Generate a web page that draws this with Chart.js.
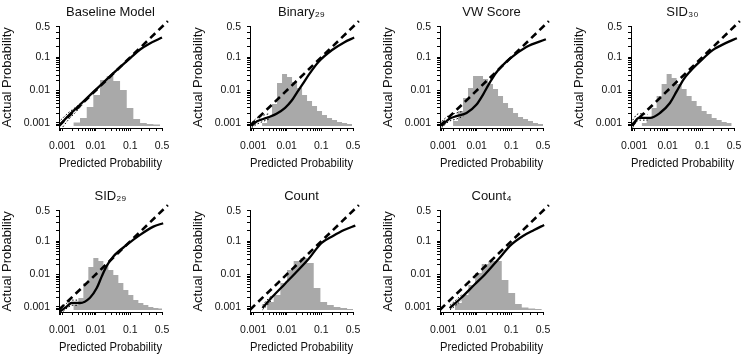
<!DOCTYPE html>
<html>
<head>
<meta charset="utf-8">
<script src="https://cdn.jsdelivr.net/npm/chart.js@4.4.1/dist/chart.umd.min.js"></script>
<style>
  html, body { margin: 0; padding: 0; background: #fff; }
  body { width: 750px; height: 357px; overflow: hidden; position: relative; }
  canvas { position: absolute; }
</style>
</head>
<body>
<script>
// one panel per model, left to right, top to bottom
const titles = ['Baseline Model', 'Binary₂₉', 'VW Score', 'SID₃₀', 'SID₂₉', 'Count', 'Count₄'];

// tick marks on both probability axes (logit spaced), and the ones that get a label
const tickValues = [0.0008, 0.0009,
  0.001, 0.002, 0.003, 0.004, 0.005, 0.006, 0.007, 0.008, 0.009,
  0.01, 0.02, 0.03, 0.04, 0.05, 0.06, 0.07, 0.08, 0.09,
  0.1, 0.2, 0.3, 0.4, 0.5];
const tickLabels = [0.001, 0.01, 0.1, 0.5];

// histogram of predicted probabilities: bin edges and relative frequency per bin
const histEdges = [
  [0.00216, 0.00342, 0.00543, 0.00854, 0.0135, 0.0213, 0.0333, 0.052, 0.0802, 0.121, 0.18, 0.258, 0.355, 0.467],
  [0.00184, 0.0026, 0.00366, 0.00517, 0.0073, 0.0103, 0.0145, 0.0204, 0.0286, 0.0399, 0.0555, 0.0766, 0.105, 0.142, 0.19, 0.249, 0.319, 0.399, 0.484],
  [0.00197, 0.00278, 0.00393, 0.00554, 0.00782, 0.011, 0.0155, 0.0218, 0.0305, 0.0426, 0.0592, 0.0817, 0.112, 0.151, 0.201, 0.262, 0.334, 0.415, 0.501],
  [0.00167, 0.00236, 0.00333, 0.0047, 0.00662, 0.00934, 0.0132, 0.0185, 0.026, 0.0363, 0.0506, 0.0701, 0.0962, 0.131, 0.176, 0.231, 0.299, 0.376, 0.46],
  [0.00216, 0.00305, 0.0043, 0.00606, 0.00854, 0.0121, 0.017, 0.0238, 0.0333, 0.0465, 0.0645, 0.0888, 0.121, 0.163, 0.216, 0.28, 0.355, 0.438, 0.5],
  [0.0026, 0.00411, 0.00651, 0.0103, 0.0162, 0.0256, 0.0399, 0.0619, 0.0948, 0.143, 0.209, 0.295, 0.399, 0.5],
  [0.00226, 0.00358, 0.00568, 0.009, 0.0142, 0.0223, 0.035, 0.0544, 0.0836, 0.127, 0.187, 0.267, 0.367, 0.479]
];
const histFreq = [
  [3.5, 8, 19, 31, 46, 50, 45, 36, 18, 7, 3, 2, 1.5],
  [3, 10, 22, 43, 52, 49, 44, 38, 31, 25, 20, 15, 11, 8, 6, 4, 3, 2],
  [5, 15, 28, 38, 50, 50, 47, 42, 37, 30, 23, 18, 13, 9, 7, 5, 3, 2],
  [3, 8, 18, 30, 42, 52, 48, 42, 37, 30, 25, 20, 15, 12, 8, 6, 4, 3],
  [5, 12, 27, 43, 52, 49, 45, 40, 35, 27, 20, 15, 10, 7, 5, 3, 2, 1.5],
  [8, 15, 27, 40, 49, 52, 47, 22, 8, 5, 3, 2, 1],
  [7, 15, 25, 37, 46, 49, 49, 30, 17, 6, 2.5, 1.5, 1]
];

// smoothed calibration curve (predicted -> actual)
const curveX = [
  [0.0008, 0.0015, 0.003, 0.006, 0.012, 0.025, 0.05, 0.1, 0.18, 0.3, 0.5],
  [0.0009, 0.0013, 0.002, 0.003, 0.005, 0.009, 0.014, 0.02, 0.03, 0.045, 0.085, 0.19, 0.35, 0.52],
  [0.0009, 0.0015, 0.0025, 0.005, 0.0098, 0.0154, 0.024, 0.038, 0.09, 0.24, 0.55],
  [0.0009, 0.0012, 0.0015, 0.003, 0.0059, 0.0117, 0.0185, 0.029, 0.045, 0.0865, 0.19, 0.375, 0.55],
  [0.00086, 0.00136, 0.0019, 0.0034, 0.0068, 0.0108, 0.0152, 0.0213, 0.0333, 0.08, 0.18, 0.355, 0.52],
  [0.0019, 0.0037, 0.009, 0.018, 0.044, 0.1, 0.2, 0.35, 0.54],
  [0.00156, 0.0035, 0.0087, 0.0173, 0.0423, 0.1, 0.2, 0.35, 0.52]
];
const curveY = [
  [0.0008, 0.0016, 0.0032, 0.0064, 0.0126, 0.026, 0.05, 0.095, 0.163, 0.232, 0.315],
  [0.0008, 0.0011, 0.0013, 0.0015, 0.0019, 0.0029, 0.0048, 0.0085, 0.016, 0.031, 0.075, 0.158, 0.245, 0.315],
  [0.0008, 0.0013, 0.0016, 0.002, 0.0036, 0.0074, 0.017, 0.036, 0.09, 0.19, 0.29],
  [0.0008, 0.0013, 0.0014, 0.0014, 0.002, 0.0041, 0.0094, 0.0215, 0.038, 0.0756, 0.159, 0.242, 0.305],
  [0.0007, 0.001, 0.0013, 0.0013, 0.0019, 0.0038, 0.0088, 0.0185, 0.036, 0.079, 0.15, 0.242, 0.29],
  [0.0009, 0.002, 0.0052, 0.011, 0.03, 0.088, 0.14, 0.2, 0.256],
  [0.0009, 0.0019, 0.0049, 0.0099, 0.0285, 0.08, 0.14, 0.2, 0.265]
];

// pointwise band around the curve, only visible at the low end
const bandX = [
  [0.0009, 0.0015, 0.0025, 0.004],
  [0.0009, 0.0013, 0.002, 0.003],
  [0.0009, 0.0015, 0.0025, 0.004],
  [0.0009, 0.0012, 0.0015, 0.0025],
  [0.0009, 0.0014, 0.002, 0.003],
  [0.0019, 0.0026, 0.0037],
  [0.0016, 0.0024, 0.0035]
];
const bandHigh = [
  [0.0012, 0.002, 0.003, 0.0045],
  [0.001, 0.0014, 0.0017, 0.0019],
  [0.0011, 0.0017, 0.002, 0.0023],
  [0.0012, 0.0018, 0.0019, 0.0018],
  [0.0009, 0.0013, 0.0016, 0.0016],
  [0.0011, 0.0016, 0.0023],
  [0.0011, 0.0016, 0.0023]
];
const bandLow = [
  [0.0006, 0.0012, 0.0021, 0.0036],
  [0.0007, 0.0009, 0.0011, 0.0013],
  [0.0007, 0.0011, 0.0013, 0.0016],
  [0.0007, 0.0011, 0.0012, 0.0012],
  [0.0006, 0.0009, 0.0011, 0.0011],
  [0.0008, 0.0011, 0.0017],
  [0.0008, 0.0011, 0.0016]
];

// perfect calibration line end points
const diagonal = [0.0008, 0.6];

const logit = p => Math.log(p / (1 - p));

// probability axis drawn on a logit scale
class LogitScale extends Chart.Scale {
  static id = 'logit';
  static defaults = {};
  determineDataLimits() {
    this.min = this.options.min;
    this.max = this.options.max;
  }
  buildTicks() {
    return tickValues.filter(v => v >= this.min && v <= this.max).map(v => ({ value: v }));
  }
  configure() {
    super.configure();
    this._lgStart = logit(this.min);
    this._lgSpan = logit(this.max) - this._lgStart;
  }
  getLabelForValue(v) { return String(v); }
  getPixelForValue(v) {
    return this.getPixelForDecimal((logit(v) - this._lgStart) / this._lgSpan);
  }
  getValueForPixel(px) {
    const z = this._lgStart + this.getDecimalForPixel(px) * this._lgSpan;
    return 1 / (1 + Math.exp(-z));
  }
}
Chart.register(LogitScale);

Chart.defaults.font.family = "'Liberation Sans', Arial, sans-serif";
Chart.defaults.color = '#111';

const colLeft = [0, 191, 381, 572];
const rowTop = [0, 184];

const pts = (xs, ys) => xs.map((x, k) => ({ x: x, y: ys[k] }));

// axis line runs only over the tick range, like base R axes
function axis(min, max, pos) {
  return {
    type: 'logit',
    min: min,
    max: max,
    position: pos,
    border: { display: true, color: '#000', width: 1 },
    grid: { display: true, drawOnChartArea: false, drawTicks: true, tickLength: 3, tickColor: '#000' },
    ticks: {
      autoSkip: false,
      maxRotation: 0,
      minRotation: 0,
      padding: pos === 'bottom' ? 9 : 6,
      font: { size: 10.5 },
      color: '#111',
      callback: v => tickLabels.includes(v) ? String(v) : ''
    }
  };
}

titles.forEach((title, i) => {
  const canvas = document.createElement('canvas');
  canvas.width = 190;
  canvas.height = 184;
  canvas.style.left = colLeft[i % 4] + 'px';
  canvas.style.top = rowTop[Math.floor(i / 4)] + 'px';
  document.body.appendChild(canvas);

  const hist = histEdges[i].map((e, k) => ({ x: e, y: k < histFreq[i].length ? histFreq[i][k] : 0 }));

  const xAxis = axis(0.0008, 0.5, 'bottom');
  xAxis.title = { display: true, text: 'Predicted Probability', font: { size: 13 }, padding: { top: 0, bottom: 13 } };
  xAxis.afterFit = s => { s.height = 56; };

  const yAxis = axis(0.00068, 0.5, 'left');
  yAxis.title = { display: true, text: 'Actual Probability', font: { size: 13 }, padding: { top: 0, bottom: 0 } };
  yAxis.afterFit = s => { s.width = 59; };

  new Chart(canvas, {
    type: 'line',
    data: {
      datasets: [
        {
          data: pts(diagonal, diagonal),
          borderColor: '#000',
          borderWidth: 2.6,
          borderDash: [7, 4.5],
          pointRadius: 0,
          clip: false,
          order: 1
        },
        {
          data: pts(curveX[i], curveY[i]),
          borderColor: '#000',
          borderWidth: 2.3,
          pointRadius: 0,
          cubicInterpolationMode: 'monotone',
          clip: false,
          order: 2
        },
        {
          data: pts(bandX[i], bandHigh[i]),
          borderColor: '#000',
          borderWidth: 1,
          borderDash: [1.5, 2],
          pointRadius: 0,
          cubicInterpolationMode: 'monotone',
          order: 3
        },
        {
          data: pts(bandX[i], bandLow[i]),
          borderColor: '#000',
          borderWidth: 1,
          borderDash: [1.5, 2],
          pointRadius: 0,
          cubicInterpolationMode: 'monotone',
          order: 3
        },
        {
          data: hist,
          yAxisID: 'y2',
          stepped: 'before',
          fill: 'origin',
          backgroundColor: '#a9a9a9',
          borderColor: 'rgba(0,0,0,0)',
          borderWidth: 0,
          pointRadius: 0,
          order: 4
        }
      ]
    },
    options: {
      responsive: false,
      animation: false,
      devicePixelRatio: 1,
      layout: { padding: { left: 0, right: 28, top: 0, bottom: 0 } },
      plugins: {
        legend: { display: false },
        tooltip: { enabled: false },
        title: {
          display: true,
          text: title,
          fullSize: false,
          color: '#111',
          font: { size: 13, weight: 'normal', lineHeight: '16px' },
          padding: { top: 4, bottom: 6.8 }
        }
      },
      scales: {
        x: xAxis,
        y: yAxis,
        y2: { type: 'linear', display: false, min: -2, max: 99.2 }
      }
    }
  });
});
</script>
</body>
</html>
